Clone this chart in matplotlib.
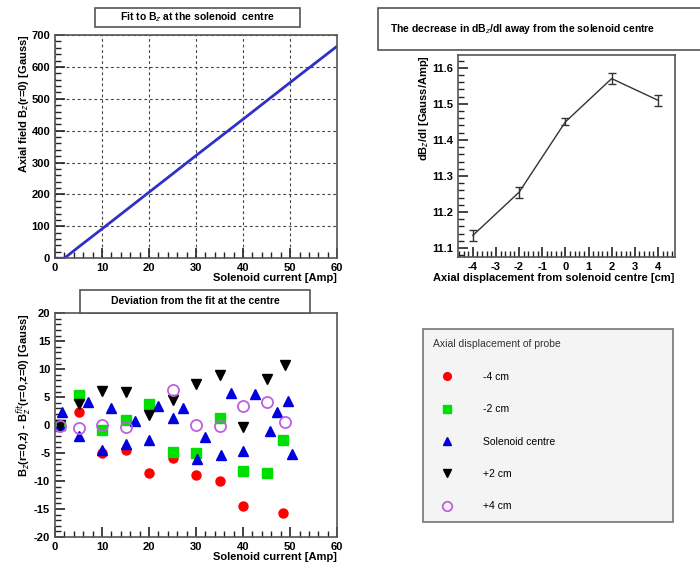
import matplotlib

matplotlib.use("Agg")
import matplotlib.pyplot as plt
from matplotlib.patches import Rectangle
from matplotlib.ticker import AutoMinorLocator, MultipleLocator

plt.rcParams["font.family"] = ["Liberation Sans", "DejaVu Sans"]
plt.rcParams["axes.unicode_minus"] = False

# top-left: field at centre vs current
fit_current = [0, 2, 5, 10, 20, 30, 40, 50, 60]
fit_field = [0, 0, 35, 92, 207, 322, 436, 551, 665]

# top-right: slope vs axial displacement
disp_cm = [-4, -2, 0, 2, 4]
slope = [11.135, 11.255, 11.45, 11.57, 11.51]
slope_err = [0.016, 0.015, 0.010, 0.016, 0.015]

# bottom-left: deviations
m4_x = [1, 5, 10, 15, 20, 25, 30, 35, 40, 48.5]
m4_y = [0, 2.4, -5.0, -4.5, -8.5, -5.8, -9.0, -10.0, -14.5, -15.8]
m2_x = [1, 5, 10, 15, 20, 25, 30, 35, 40, 45, 48.5]
m2_y = [0, 5.4, -0.9, 1.0, 3.7, -4.8, -5.0, 1.2, -8.2, -8.5, -2.7]
c_x = [1, 1.5, 5, 7, 10, 12, 15, 17, 20, 22, 25, 27.3, 30.3, 32, 35.3,
       37.5, 40, 42.5, 45.8, 47.3, 49.5, 50.4]
c_y = [0, 2.3, -1.9, 4.1, -4.4, 3.1, -3.3, 0.8, -2.7, 3.5, 1.3, 3.1, -6.1,
       -2.1, -5.3, 5.8, -4.7, 5.5, -1.0, 2.4, 4.3, -5.2]
p2_x = [1, 5, 10, 15, 20, 25, 30, 35, 40, 45, 49]
p2_y = [0, 3.8, 6.1, 6.0, 1.8, 4.4, 7.3, 9.0, -0.4, 8.3, 10.7]
p4_x = [1, 5, 10, 15, 25, 30, 35, 40, 45, 49]
p4_y = [-0.2, -0.5, 0.0, -0.4, 6.2, 0.1, -0.2, 3.5, 4.2, 0.6]

lab = dict(fontsize=8, fontweight="bold")


def root_style(ax):
    ax.xaxis.set_minor_locator(AutoMinorLocator(5))
    ax.yaxis.set_minor_locator(AutoMinorLocator(5))
    ax.tick_params(which="both", direction="in", top=False, right=False,
                   labelsize=8, color="#222222")
    ax.tick_params(which="major", length=7, width=1.2)
    ax.tick_params(which="minor", length=4, width=1)
    for lbl in ax.get_xticklabels() + ax.get_yticklabels():
        lbl.set_fontweight("bold")
    for sp in ax.spines.values():
        sp.set_color("#555555")
        sp.set_linewidth(1.2)


def title_box(fig, x0, y0, x1, y1, text, tx, ha="center"):
    W, H = 700, 565
    fig.add_artist(Rectangle((x0 / W, 1 - y1 / H), (x1 - x0) / W,
                             (y1 - y0) / H, transform=fig.transFigure,
                             facecolor="white", edgecolor="#555555",
                             linewidth=1.2))
    fig.text(tx / W, 1 - (y0 + y1) / 2 / H, text, ha=ha, va="center",
             fontsize=7.5, fontweight="bold")


fig = plt.figure(figsize=(7, 5.65), dpi=100)

# ---- top-left
ax1 = fig.add_axes([0.0786, 0.543, 0.403, 0.395])
ax1.plot(fit_current, fit_field, color="#3030c8", linewidth=2)
ax1.set_xlim(0, 60)
ax1.set_ylim(0, 700)
ax1.xaxis.set_major_locator(MultipleLocator(10))
ax1.yaxis.set_major_locator(MultipleLocator(100))
ax1.grid(True, which="major", linestyle=(0, (2.5, 2.5)), color="#444444",
         linewidth=0.8)
ax1.set_xlabel("Solenoid current [Amp]", loc="right", labelpad=0, **lab)
ax1.set_ylabel(r"Axial field B$_z$(r=0) [Gauss]", loc="top", labelpad=0,
               **lab)
root_style(ax1)
title_box(fig, 95, 8, 300, 27, r"Fit to B$_z$ at the solenoid  centre", 197)

# ---- top-right
ax2 = fig.add_axes([0.654, 0.545, 0.31, 0.358])
ax2.errorbar(disp_cm, slope, yerr=slope_err, color="#333333", linewidth=1,
             capsize=3, elinewidth=1)
ax2.set_xlim(-4.65, 4.73)
ax2.set_ylim(11.075, 11.636)
ax2.xaxis.set_major_locator(MultipleLocator(1))
ax2.yaxis.set_major_locator(MultipleLocator(0.1))
ax2.set_xlabel("Axial displacement from solenoid centre [cm]", loc="right",
               labelpad=1, **lab)
ax2.set_ylabel(r"dB$_z$/dI [Gauss/Amp]", loc="top", labelpad=1, **lab)
root_style(ax2)
title_box(fig, 378, 8, 720, 50,
          r"The decrease in dB$_z$/dI away from the solenoid centre", 390,
          ha="left")

# ---- bottom-left
ax3 = fig.add_axes([0.0786, 0.0496, 0.403, 0.396])
ax3.plot(m4_x, m4_y, "o", color="#ff0000", markersize=6.5, label="-4 cm")
ax3.plot(m2_x, m2_y, "s", color="#00e000", markersize=6.5, label="-2 cm")
ax3.plot(c_x, c_y, "^", color="#0000e0", markersize=6.5,
         label="Solenoid centre")
ax3.plot(p2_x, p2_y, "v", color="#000000", markersize=6.5, label="+2 cm")
ax3.plot(p4_x, p4_y, "o", markerfacecolor="none", markeredgecolor="#c060e0",
         markeredgewidth=1.3, markersize=8, label="+4 cm")
ax3.set_xlim(0, 60)
ax3.set_ylim(-20, 20)
ax3.xaxis.set_major_locator(MultipleLocator(10))
ax3.yaxis.set_major_locator(MultipleLocator(5))
ax3.set_xlabel("Solenoid current [Amp]", loc="right", labelpad=0, **lab)
ax3.set_ylabel(r"B$_z$(r=0,z) - B$_z^{fit}$(r=0,z=0) [Gauss]", loc="top",
               labelpad=0, **lab)
root_style(ax3)
title_box(fig, 80, 290, 310, 313, "Deviation from the fit at the centre", 195)

# ---- legend
handles, labels = ax3.get_legend_handles_labels()
leg = fig.legend(handles, labels, loc="upper left", mode="expand",
                 bbox_to_anchor=(423 / 700, 1 - 329 / 565 - 0.01,
                                 250 / 700, 0.01),
                 title="Axial displacement of probe", fontsize=7.5,
                 title_fontsize=7.5, frameon=True, fancybox=False,
                 facecolor="#f2f2f2", edgecolor="#555555", borderpad=1.0,
                 labelspacing=2.15, handletextpad=2.2, borderaxespad=0,
                 handlelength=2.6, markerscale=0.85)
leg._legend_box.align = "left"
leg.get_frame().set_linewidth(1.2)
leg.get_title().set_color("#333333")

fig.savefig("out.png", dpi=100)
